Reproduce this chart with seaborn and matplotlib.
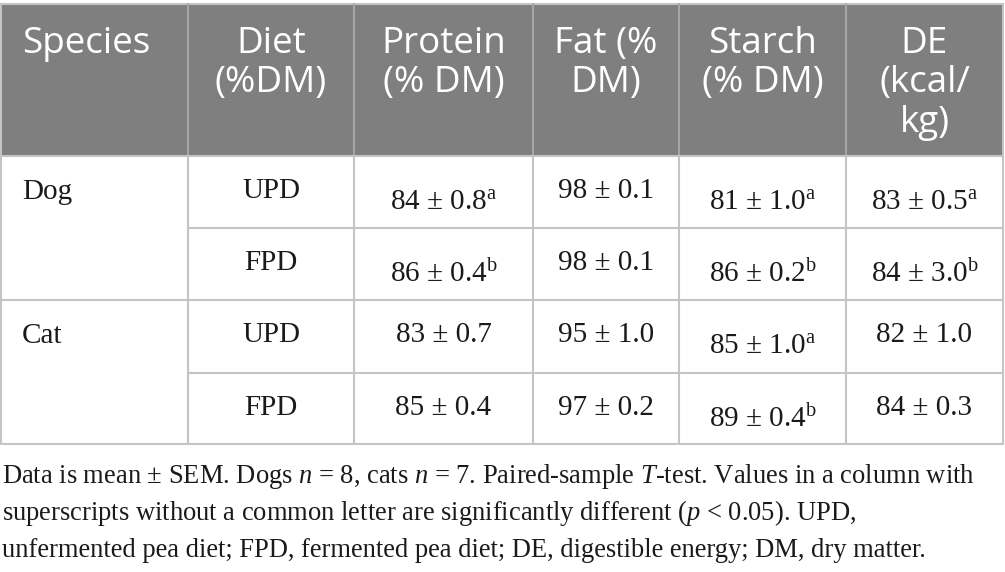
import matplotlib
matplotlib.use('Agg')
import matplotlib.pyplot as plt
from matplotlib.patches import Rectangle
import seaborn as sns

# Table data
species = ['Dog', 'Cat']
diets = ['UPD', 'FPD', 'UPD', 'FPD']
headers = [['Species'], ['Diet', '(%DM)'], ['Protein', '(% DM)'], ['Fat (%', 'DM)'],
           ['Starch', '(% DM)'], ['DE', '(kcal/', 'kg)']]

protein_mean = [84, 86, 83, 85]
protein_sem = [0.8, 0.4, 0.7, 0.4]
protein_sup = ['a', 'b', '', '']
fat_mean = [98, 98, 95, 97]
fat_sem = [0.1, 0.1, 1.0, 0.2]
fat_sup = ['', '', '', '']
starch_mean = [81, 86, 85, 89]
starch_sem = [1.0, 0.2, 1.0, 0.4]
starch_sup = ['a', 'b', 'a', 'b']
de_mean = [83, 84, 82, 84]
de_sem = [0.5, 3.0, 1.0, 0.3]
de_sup = ['a', 'b', '', '']

footnote = [
    'Data is mean ± SEM. Dogs $n$ = 8, cats $n$ = 7. Paired-sample $T$-test. Values in a column with',
    'superscripts without a common letter are significantly different ($p$ < 0.05). UPD,',
    'unfermented pea diet; FPD, fermented pea diet; DE, digestible energy; DM, dry matter.',
]

sns.set_theme(style='white')
plt.rcParams['mathtext.fontset'] = 'custom'
plt.rcParams['mathtext.rm'] = 'Liberation Serif'
plt.rcParams['mathtext.it'] = 'Liberation Serif:italic'

fig = plt.figure(figsize=(10.05, 5.72), dpi=100)
ax = fig.add_axes([0, 0, 1, 1])
ax.set_xlim(0, 1005)
ax.set_ylim(572, 0)
ax.axis('off')

col_x = [1, 188, 354, 533, 679, 846, 1003]
row_y = [4, 156, 228, 300, 373, 444]
head_bg = '#7f7f7f'
grid = '#c4c4c4'

# header band
ax.add_patch(Rectangle((col_x[0], row_y[0]), col_x[-1] - col_x[0], row_y[1] - row_y[0],
                       facecolor=head_bg, edgecolor='none'))
for x in col_x[1:-1]:
    ax.plot([x, x], [row_y[0], row_y[1]], color='#a6a6a6', lw=1.5)

# body grid
ax.plot([col_x[0], col_x[-1]], [row_y[1], row_y[1]], color=grid, lw=1.5)
ax.plot([col_x[0], col_x[-1]], [row_y[3], row_y[3]], color=grid, lw=1.5)
ax.plot([col_x[1], col_x[-1]], [row_y[2], row_y[2]], color=grid, lw=1.5)
ax.plot([col_x[1], col_x[-1]], [row_y[4], row_y[4]], color=grid, lw=1.5)
for x in col_x[1:-1]:
    ax.plot([x, x], [row_y[1], row_y[-1]], color=grid, lw=1.5)
ax.add_patch(Rectangle((col_x[0], row_y[0]), col_x[-1] - col_x[0], row_y[-1] - row_y[0],
                       facecolor='none', edgecolor=grid, lw=1.5))

# header text
for i, lines in enumerate(headers):
    for j, line in enumerate(lines):
        if i == 0:
            ax.text(22, 53 + 39.5 * j, line, ha='left', va='baseline', color='white',
                    fontsize=26.5, family='Open Sans')
        else:
            cx = (col_x[i] + col_x[i + 1]) / 2
            ax.text(cx, 53 + 39.5 * j, line, ha='center', va='baseline', color='white',
                    fontsize=26.5, family='Open Sans')

serif = 'Liberation Serif'
body_fs = 21

# species (merged cells)
for k, sp in enumerate(species):
    ax.text(22, row_y[1 + 2 * k] + 43, sp, ha='left', va='baseline',
            fontsize=body_fs, family=serif, color='#1a1a1a')

cols = [(protein_mean, protein_sem, protein_sup),
        (fat_mean, fat_sem, fat_sup),
        (starch_mean, starch_sem, starch_sup),
        (de_mean, de_sem, de_sup)]

for r in range(4):
    top = row_y[1 + r]
    cx = (col_x[1] + col_x[2]) / 2
    ax.text(cx, top + 42, diets[r], ha='center', va='baseline',
            fontsize=body_fs, family=serif, color='#1a1a1a')
    for c, (m, s, sup) in enumerate(cols):
        cx = (col_x[2 + c] + col_x[3 + c]) / 2
        label = f'{m[r]} ± {s[r]:.1f}'
        dy = 42
        if sup[r]:
            label += r'${}^{\mathrm{' + sup[r] + '}}$'
            dy = 54
        ax.text(cx, top + dy, label, ha='center', va='baseline',
                fontsize=body_fs, family=serif, color='#1a1a1a')

# footnote
for j, line in enumerate(footnote):
    ax.text(2, 483 + 37 * j, line, ha='left', va='baseline',
            fontsize=19.1, family=serif, color='#1a1a1a')

fig.savefig('out.png', dpi=100)
